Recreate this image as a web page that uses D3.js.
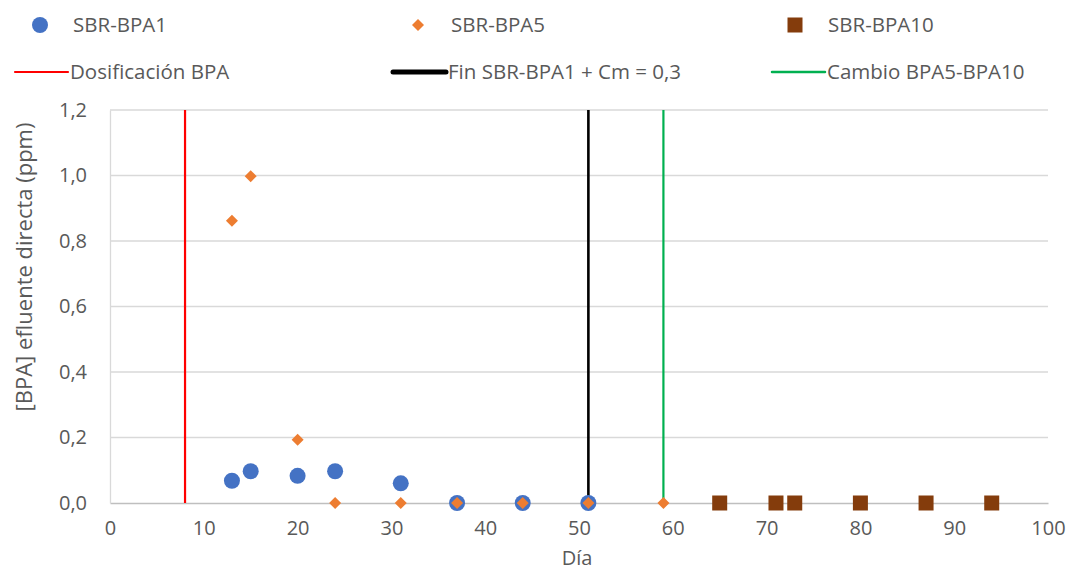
<!DOCTYPE html>
<html>
<head>
<meta charset="utf-8">
<script src="https://cdn.jsdelivr.net/npm/d3@7"></script>
<style>
  body { margin: 0; background: #fff; }
  text { font-family: "Open Sans", "Noto Sans", sans-serif; }
</style>
</head>
<body>
<div id="chart"></div>
<script>
// data
var dias1 = [13, 15, 20, 24, 31, 37, 44, 51];
var bpa1  = [0.068, 0.097, 0.083, 0.097, 0.060, 0, 0, 0];
var dias5 = [13, 15, 20, 24, 31, 37, 44, 51, 59];
var bpa5  = [0.862, 0.998, 0.193, 0, 0, 0, 0, 0, 0];
var dias10 = [65, 71, 73, 80, 87, 94];
var bpa10  = [0, 0, 0, 0, 0, 0];

// vertical reference lines (day)
var refNames = ["Dosificación BPA", "Fin SBR-BPA1 + Cm = 0,3", "Cambio BPA5-BPA10"];
var refDias = [8, 51, 59];

var xTicks = [0, 10, 20, 30, 40, 50, 60, 70, 80, 90, 100];
var yTicks = [0, 0.2, 0.4, 0.6, 0.8, 1.0, 1.2];

var w = 1069, h = 572;
var margin = {left: 110, top: 110, right: 21, bottom: 69};

var svg = d3.select("#chart").append("svg")
    .attr("width", w)
    .attr("height", h);

var x = d3.scaleLinear().domain([0, 100]).range([margin.left, w - margin.right]);
var y = d3.scaleLinear().domain([0, 1.2]).range([h - margin.bottom, margin.top]);

var fmt = function (d) { return d3.format(".1f")(d).replace(".", ","); };

//gridlines
svg.append("g")
    .selectAll("line")
    .data(yTicks.filter(function (d) { return d > 0; }))
    .enter().append("line")
    .attr("x1", x(0)).attr("x2", x(100))
    .attr("y1", function (d) { return y(d); })
    .attr("y2", function (d) { return y(d); })
    .attr("stroke", "#d9d9d9")
    .attr("stroke-width", 1.3);

// axes
var xAxis = svg.append("g")
    .attr("transform", "translate(0," + y(0) + ")")
    .call(d3.axisBottom(x).tickValues(xTicks).tickSize(0).tickPadding(18).tickFormat(d3.format("d")));
xAxis.select(".domain").attr("stroke", "#bfbfbf").attr("stroke-width", 1.5);
xAxis.selectAll("text").attr("fill", "#595959").style("font-size", "20px");

var yAxis = svg.append("g")
    .attr("transform", "translate(" + x(0) + ",0)")
    .call(d3.axisLeft(y).tickValues(yTicks).tickSize(0).tickPadding(23).tickFormat(fmt));
yAxis.select(".domain").attr("stroke", "#d9d9d9").attr("stroke-width", 1.3);
yAxis.selectAll("text").attr("fill", "#595959").style("font-size", "20px");

// axis titles
svg.append("text")
    .attr("x", 577).attr("y", 565)
    .attr("text-anchor", "middle")
    .attr("fill", "#595959")
    .style("font-size", "20px")
    .text("Día");

svg.append("text")
    .attr("transform", "translate(32,267) rotate(-90)")
    .attr("text-anchor", "middle")
    .attr("fill", "#595959")
    .style("font-size", "22px")
    .text("[BPA] efluente directa (ppm)");

// reference lines
var refColors = ["#ff0000", "#000000", "#00b050"];
var refWidths = [2.2, 2.6, 2.2];
svg.append("g")
    .selectAll("line")
    .data(refDias)
    .enter().append("line")
    .attr("x1", function (d) { return x(d); })
    .attr("x2", function (d) { return x(d); })
    .attr("y1", y(1.2)).attr("y2", y(0))
    .attr("stroke", function (d, i) { return refColors[i]; })
    .attr("stroke-width", function (d, i) { return refWidths[i]; });

// series
var diamond = d3.symbol().type(d3.symbolSquare).size(72);

svg.append("g")
    .selectAll("circle")
    .data(dias1)
    .enter().append("circle")
    .attr("cx", function (d) { return x(d); })
    .attr("cy", function (d, i) { return y(bpa1[i]); })
    .attr("r", 8)
    .attr("fill", "#4472c4");

svg.append("g")
    .selectAll("path")
    .data(dias5)
    .enter().append("path")
    .attr("d", diamond)
    .attr("transform", function (d, i) { return "translate(" + x(d) + "," + y(bpa5[i]) + ") rotate(45)"; })
    .attr("fill", "#ed7d31");

svg.append("g")
    .selectAll("rect")
    .data(dias10)
    .enter().append("rect")
    .attr("x", function (d) { return x(d) - 7.5; })
    .attr("y", function (d, i) { return y(bpa10[i]) - 7.5; })
    .attr("width", 15).attr("height", 15)
    .attr("fill", "#843c0c");

// legend
var leg = svg.append("g").style("font-size", "20.5px");
var row1x = [40, 418, 795];
var row1Names = ["SBR-BPA1", "SBR-BPA5", "SBR-BPA10"];

leg.append("circle").attr("cx", row1x[0]).attr("cy", 25).attr("r", 8).attr("fill", "#4472c4");
leg.append("path").attr("d", diamond)
    .attr("transform", "translate(" + row1x[1] + ",25) rotate(45)")
    .attr("fill", "#ed7d31");
leg.append("rect").attr("x", row1x[2] - 7.5).attr("y", 17.5).attr("width", 15).attr("height", 15).attr("fill", "#843c0c");

leg.selectAll(".l1")
    .data(row1Names)
    .enter().append("text")
    .attr("x", function (d, i) { return row1x[i] + 33; })
    .attr("y", 25)
    .attr("dy", "0.35em")
    .attr("fill", "#595959")
    .text(function (d) { return d; });

var row2x = [15, 393, 772];
var legWidths = [2.2, 5, 2.5];
leg.selectAll(".l2line")
    .data(refNames)
    .enter().append("line")
    .attr("x1", function (d, i) { return row2x[i]; })
    .attr("x2", function (d, i) { return row2x[i] + 53; })
    .attr("y1", 72).attr("y2", 72)
    .attr("stroke", function (d, i) { return refColors[i]; })
    .attr("stroke-width", function (d, i) { return legWidths[i]; })
    .attr("stroke-linecap", "round");

leg.selectAll(".l2")
    .data(refNames)
    .enter().append("text")
    .attr("x", function (d, i) { return row2x[i] + 55; })
    .attr("y", 72)
    .attr("dy", "0.35em")
    .attr("fill", "#595959")
    .text(function (d) { return d; });
</script>
</body>
</html>
